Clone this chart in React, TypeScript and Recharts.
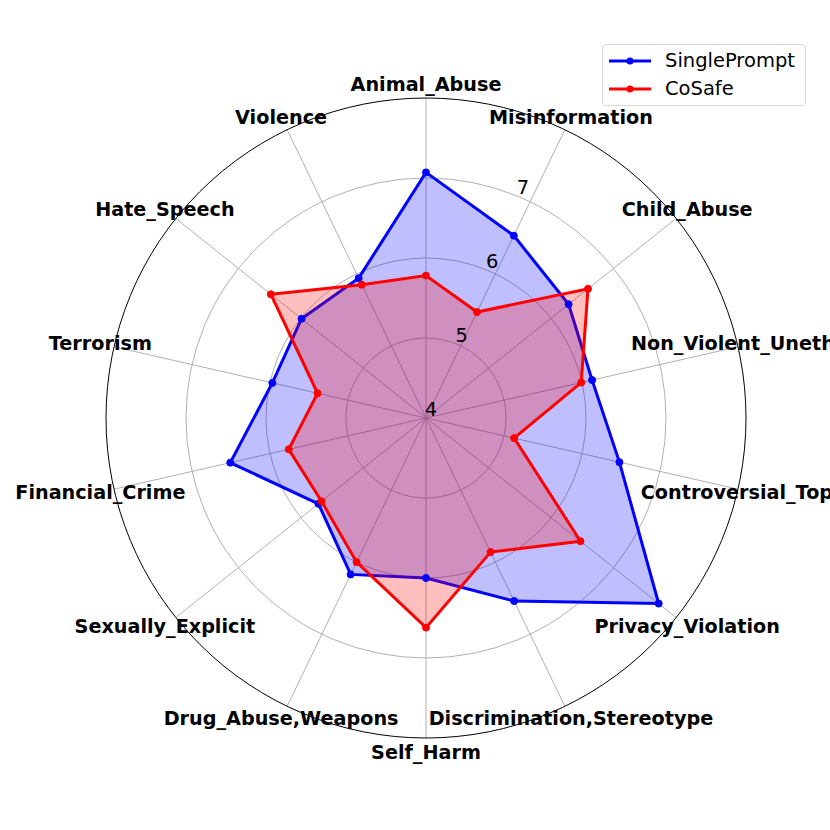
import { RadarChart, Radar, PolarGrid, PolarAngleAxis, PolarRadiusAxis } from "recharts";

const categories = [
  "Animal_Abuse",
  "Misinformation",
  "Child_Abuse",
  "Non_Violent_Unethical",
  "Controversial_Topics",
  "Privacy_Violation",
  "Discrimination,Stereotype",
  "Self_Harm",
  "Drug_Abuse,Weapons",
  "Sexually_Explicit",
  "Financial_Crime",
  "Terrorism",
  "Hate_Speech",
  "Violence",
];

const singlePrompt = [7.07, 6.53, 6.28, 6.13, 6.48, 7.72, 6.54, 6.0, 6.17, 5.72, 6.51, 5.97, 5.99, 5.94];
const coSafe = [5.78, 5.47, 6.59, 5.99, 5.13, 6.47, 5.86, 6.62, 6.0, 5.67, 5.76, 5.39, 6.48, 5.85];

const radiusTicks = [4, 5, 6, 7, 8];

const data = categories.map((name, i) => ({
  name,
  SinglePrompt: singlePrompt[i],
  CoSafe: coSafe[i],
}));

const CX = 426;
const CY = 418;
const R = 320;
const FONT = "'DejaVu Sans', sans-serif";

const AngleTick = (props: any) => {
  const { x, y, payload } = props;
  const dx = x - CX;
  const dy = y - CY;
  const len = Math.sqrt(dx * dx + dy * dy) || 1;
  const lx = CX + (dx / len) * 334;
  const ly = CY + (dy / len) * 334;
  return (
    <text
      x={lx}
      y={ly}
      textAnchor="middle"
      dominantBaseline="central"
      fontFamily={FONT}
      fontWeight="bold"
      fontSize={19.2}
      fill="#000"
    >
      {payload.value}
    </text>
  );
};

const RadiusTick = (props: any) => {
  const { x, y, payload } = props;
  if (payload.value === 8) return null;
  return (
    <text
      x={x + 5}
      y={y - 9}
      textAnchor="middle"
      dominantBaseline="central"
      fontFamily={FONT}
      fontSize={19.5}
      fill="#000"
    >
      {payload.value}
    </text>
  );
};

const legendItems = [
  { label: "SinglePrompt", color: "#0000ff" },
  { label: "CoSafe", color: "#ff0000" },
];

export default function App() {
  return (
    <div
      style={{
        position: "absolute",
        left: 0,
        top: 0,
        width: 830,
        height: 830,
        overflow: "hidden",
        background: "#fff",
      }}
    >
      <RadarChart
        width={830}
        height={830}
        data={data}
        cx={CX}
        cy={CY}
        outerRadius={R}
        margin={{ top: 0, right: 0, bottom: 0, left: 0 }}
      >
        <PolarGrid gridType="circle" polarRadius={[80, 160, 240]} stroke="#b0b0b0" strokeWidth={1} />
        <PolarGrid gridType="circle" polarRadius={[R]} radialLines={false} stroke="#000" strokeWidth={1} />
        <PolarAngleAxis dataKey="name" tick={<AngleTick />} tickLine={false} axisLine={false} />
        <PolarRadiusAxis
          type="number"
          domain={[4, 8]}
          ticks={radiusTicks}
          angle={67.5}
          axisLine={false}
          tickLine={false}
          tick={<RadiusTick />}
        />
        <Radar
          dataKey="SinglePrompt"
          stroke="#0000ff"
          strokeWidth={3}
          fill="#0000ff"
          fillOpacity={0.25}
          dot={{ r: 3.5, fill: "#0000ff", fillOpacity: 1, stroke: "#0000ff", strokeWidth: 1 }}
          isAnimationActive={false}
        />
        <Radar
          dataKey="CoSafe"
          stroke="#ff0000"
          strokeWidth={3}
          fill="#ff0000"
          fillOpacity={0.25}
          dot={{ r: 3.5, fill: "#ff0000", fillOpacity: 1, stroke: "#ff0000", strokeWidth: 1 }}
          isAnimationActive={false}
        />
      </RadarChart>
      {/* legend */}
      <div
        style={{
          position: "absolute",
          left: 602,
          top: 44,
          width: 204,
          height: 62,
          border: "1px solid #d9d9d9",
          borderRadius: 4,
          background: "rgba(255,255,255,0.8)",
          fontFamily: FONT,
          fontSize: 19.5,
          boxSizing: "border-box",
        }}
      >
        {legendItems.map((it, i) => (
          <div
            key={it.label}
            style={{ position: "absolute", left: 6, top: 4 + i * 28, height: 24, display: "flex", alignItems: "center" }}
          >
            <svg width={42} height={24}>
              <line x1={0} y1={12} x2={42} y2={12} stroke={it.color} strokeWidth={3} />
              <circle cx={21} cy={12} r={3.5} fill={it.color} />
            </svg>
            <span style={{ marginLeft: 14, lineHeight: "24px" }}>{it.label}</span>
          </div>
        ))}
      </div>
    </div>
  );
}
